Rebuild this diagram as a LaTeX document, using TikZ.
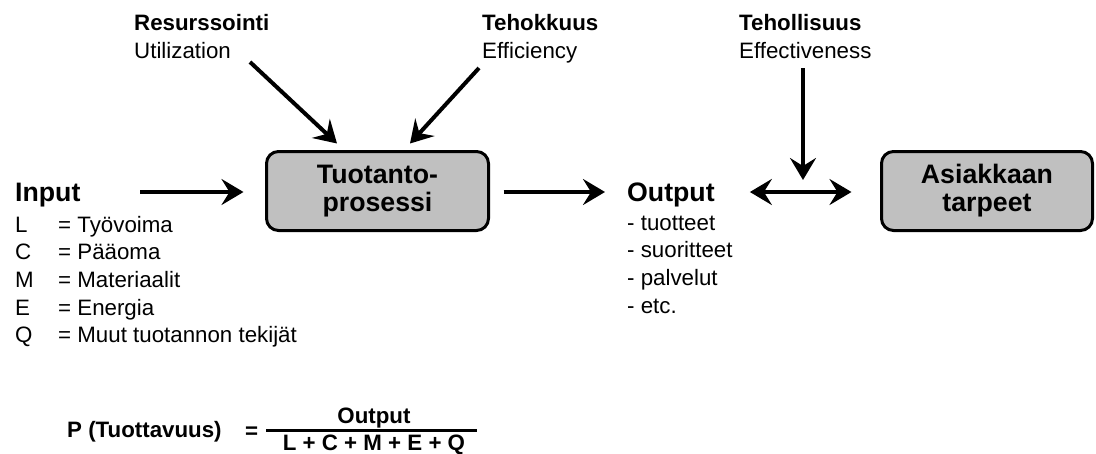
\documentclass[tikz,border=0pt]{standalone}
\usepackage{fontspec}
\setmainfont{Liberation Sans}
\usetikzlibrary{arrows.meta}
\definecolor{boxgray}{RGB}{192,192,192}

\begin{document}
\begin{tikzpicture}[>={Stealth[length=22pt,width=26pt,inset=8pt]},line join=round,x=1pt,y=-1pt]
	\tikzset{
		lbl/.style={anchor=base west,inner sep=0pt,font=\fontsize{22.3}{26}\selectfont},
		lblb/.style={anchor=base west,inner sep=0pt,font=\fontsize{22.3}{26}\selectfont\bfseries},
		big/.style={anchor=base west,inner sep=0pt,font=\fontsize{26.7}{28}\selectfont\bfseries},
		box/.style={draw,line width=3pt,rounded corners=12pt,fill=boxgray,align=center,inner sep=0pt,
			minimum height=79pt,font=\fontsize{26.7}{28}\selectfont\bfseries},
		flow/.style={->,line width=4pt},
		frm/.style={inner sep=0pt,font=\fontsize{22.3}{24}\selectfont\bfseries},
	}
	\useasboundingbox (0,0) rectangle (1096,453);
	% the two process boxes
	\node[box,minimum width=222pt] (proc) at (377.5,191) {Tuotanto-\\prosessi};
	\node[box,minimum width=211pt] (need) at (987,191) {Asiakkaan\\tarpeet};
	% labels on top
	\foreach \nm/\x/\fin/\eng in {res/134/Resurssointi/Utilization,eff/482/Tehokkuus/Efficiency,effe/739/Tehollisuus/Effectiveness}{
		\node[lblb] (\nm Fi) at (\x,30) {\fin};
		\node[lbl] (\nm En) at (\x,58) {\eng};
	}
	% input side
	\node[big] (inT) at (15,201) {Input};
	\foreach \k/\nm [count=\i from 0] in {L/Työvoima,C/Pääoma,M/Materiaalit,E/Energia,Q/Muut tuotannon tekijät}{
		\node[lbl] (in\k) at (15,{232+27.7*\i}) {\k};
		\node[lbl] (in\k txt) at (58,{232+27.7*\i}) {= \nm};
	}
	% output side
	\node[big] (outT) at (627,201) {Output};
	\foreach \t [count=\i from 0] in {tuotteet,suoritteet,palvelut,etc.}{
		\node[lbl] (out\i) at (627,{230+27.7*\i}) {- \t};
	}
	% arrows
	\coordinate (inS) at (140,192);
	\coordinate (resS) at (250,62);
	\coordinate (effS) at (479,68);
	\coordinate (effeS) at (803,68);
	\coordinate (cross) at (803,192);
	\draw[flow] (resS)--([xshift=-40.5pt,yshift=6.5pt]proc.north);
	\draw[flow] (effS)--([xshift=32.5pt,yshift=6.5pt]proc.north);
	\draw[flow,shorten >=21.5pt] (inS)--(inS -| proc.west);
	\draw[flow,shorten <=13.5pt,shorten >=22pt] (proc.east |- inS)--(outT.west |- inS);
	\draw[flow,<->,shorten <=35pt,shorten >=28.5pt] (outT.east |- cross)--(need.west |- cross);
	\draw[flow] (effeS)--([yshift=12pt]cross);
	% productivity formula
	\node[frm,anchor=base west] (pLbl) at (67,437) {P (Tuottavuus)};
	\node[frm,anchor=base west] (eqS) at (245,438.5) {=};
	\node[frm,anchor=base] (num) at (374,423.5) {Output};
	\node[frm,anchor=base] (den) at (374,450) {L + C + M + E + Q};
	\draw[line width=2.5pt] (266,430.5)--(477,430.5);
\end{tikzpicture}
\end{document}
